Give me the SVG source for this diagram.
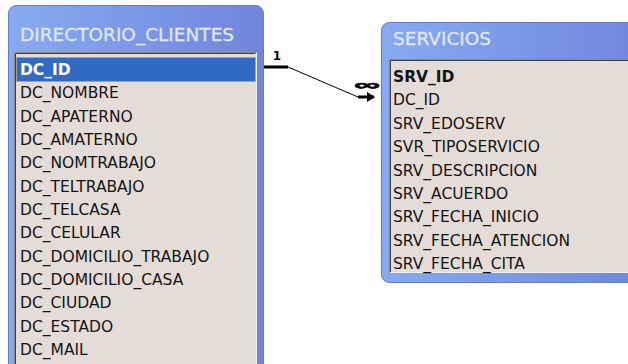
<svg xmlns="http://www.w3.org/2000/svg" width="628" height="364" viewBox="0 0 628 364">
<style>
.frame{fill:url(#frameGrad);stroke:#6379d2;stroke-width:1}
.list{fill:#e4dcd6}
.title{font-family:"DejaVu Sans",Verdana,sans-serif;font-size:18.5px;fill:#dfe8fb;stroke:#dfe8fb;stroke-width:0.3}
.fld{font-family:"DejaVu Sans",Verdana,sans-serif;font-size:15.5px;fill:#141414}
.pk{font-weight:bold}
.dk{stroke:#8a8780;stroke-width:1;fill:none}
.dk2{stroke:#404040;stroke-width:1;fill:none}
.lt{stroke:#f4f0ea;stroke-width:1;fill:none}
.card{font-family:"DejaVu Sans",Verdana,sans-serif;font-weight:bold;fill:#000}
</style>
<defs>
<linearGradient id="frameGrad" x1="0" y1="0" x2="1" y2="0">
<stop offset="0" stop-color="#88aaf0"/>
<stop offset="1" stop-color="#7085dc"/>
</linearGradient>
<marker id="arrow" markerWidth="10" markerHeight="10" refX="7" refY="5" orient="auto" markerUnits="userSpaceOnUse">
<path d="M0,0 L8,5 L0,10 Z" fill="#000"/>
</marker>
</defs>
<rect width="628" height="364" fill="#fff"/>
<g id="directorio_clientes">
<rect class="frame" x="8.5" y="5.5" width="255" height="390" rx="8"/>
<text class="title" x="20" y="41">DIRECTORIO_CLIENTES</text>
<rect class="list" x="14" y="52" width="243" height="330"/>
<path class="dk" d="M14.5,382 V52.5 H256.5"/>
<path class="dk2" d="M15.5,382 V53.5 H255.5"/>
<path class="lt" d="M256.5,53 V382"/>
<rect x="16.5" y="57.5" width="239" height="24" fill="#316ac5" stroke="#c8a040" stroke-dasharray="1 1"/>
<text class="fld pk" x="20" y="75" style="fill:#fff">DC_ID</text>
<text class="fld" x="20" y="98.3">DC_NOMBRE</text>
<text class="fld" x="20" y="121.7">DC_APATERNO</text>
<text class="fld" x="20" y="145">DC_AMATERNO</text>
<text class="fld" x="20" y="168.3">DC_NOMTRABAJO</text>
<text class="fld" x="20" y="191.7">DC_TELTRABAJO</text>
<text class="fld" x="20" y="215">DC_TELCASA</text>
<text class="fld" x="20" y="238.3">DC_CELULAR</text>
<text class="fld" x="20" y="261.7">DC_DOMICILIO_TRABAJO</text>
<text class="fld" x="20" y="285">DC_DOMICILIO_CASA</text>
<text class="fld" x="20" y="308.3">DC_CIUDAD</text>
<text class="fld" x="20" y="331.7">DC_ESTADO</text>
<text class="fld" x="20" y="355">DC_MAIL</text>
</g>
<g id="servicios">
<rect class="frame" x="381.5" y="22.5" width="270" height="260" rx="8"/>
<text class="title" x="393" y="45">SERVICIOS</text>
<rect class="list" x="389" y="59" width="250" height="214"/>
<path class="dk" d="M389.5,273 V59.5 H640"/>
<path class="dk2" d="M390.5,272 V60.5 H640"/>
<path class="lt" d="M390,272.5 H640"/>
<text class="fld pk" x="393" y="82">SRV_ID</text>
<text class="fld" x="393" y="105.4">DC_ID</text>
<text class="fld" x="393" y="128.8">SRV_EDOSERV</text>
<text class="fld" x="393" y="152.2">SVR_TIPOSERVICIO</text>
<text class="fld" x="393" y="175.6">SRV_DESCRIPCION</text>
<text class="fld" x="393" y="199">SRV_ACUERDO</text>
<text class="fld" x="393" y="222.4">SRV_FECHA_INICIO</text>
<text class="fld" x="393" y="245.8">SRV_FECHA_ATENCION</text>
<text class="fld" x="393" y="269.2">SRV_FECHA_CITA</text>
</g>
<g id="connectors">
<line x1="264" y1="67" x2="288" y2="67" stroke="#000" stroke-width="3"/>
<line x1="288" y1="67" x2="358" y2="97" stroke="#000" stroke-width="1"/>
<line x1="358" y1="97" x2="374" y2="97" stroke="#000" stroke-width="3" marker-end="url(#arrow)"/>
<text class="card" x="277" y="60" font-size="12" text-anchor="middle">1</text>
<text transform="translate(367,89.5) scale(1.8,0.75)" x="0" y="0" font-family="'Liberation Sans',sans-serif" font-weight="bold" font-size="20" text-anchor="middle" fill="#000" stroke="#000" stroke-width="0.8">∞</text>
</g>
</svg>
